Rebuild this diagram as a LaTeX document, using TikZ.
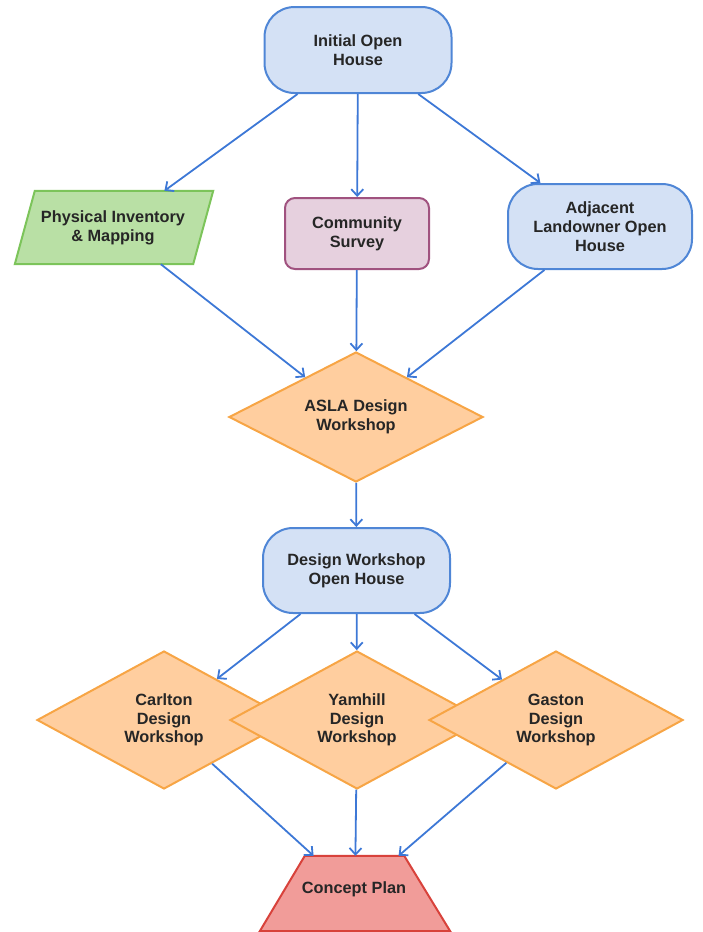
\documentclass[tikz,border=0pt]{standalone}
\usepackage{fontspec}
\setmainfont{Liberation Sans}
\usetikzlibrary{arrows.meta,shapes.geometric,calc}
\definecolor{bfill}{HTML}{D4E1F5}
\definecolor{bdraw}{HTML}{4F86D6}
\definecolor{gfill}{HTML}{B9E0A5}
\definecolor{gdraw}{HTML}{7CC45A}
\definecolor{pfill}{HTML}{E6D0DE}
\definecolor{pdraw}{HTML}{A0527F}
\definecolor{ofill}{HTML}{FFCE9F}
\definecolor{odraw}{HTML}{F7A545}
\definecolor{rfill}{HTML}{F19C99}
\definecolor{rdraw}{HTML}{D8423B}
\definecolor{arrc}{HTML}{3D78D6}
\begin{document}
\begin{tikzpicture}[x=1pt,y=-1pt,
  every node/.style={font=\fontsize{16.3}{18.7}\selectfont\bfseries, align=center, inner sep=0pt, text=black!85},
  term/.style={draw=bdraw, fill=bfill, line width=2pt, rounded corners=30pt},
  survbox/.style={draw=pdraw, fill=pfill, line width=2pt, rounded corners=10pt},
  dia/.style={diamond, aspect=2, draw=odraw, fill=ofill, line width=2pt, minimum width=254pt, minimum height=138pt},
  ghost/.style={rectangle},
  arr/.style={draw=arrc, line width=1.8pt, -{Straight Barb[length=6.5pt,width=12pt,line width=1.8pt]}}
]
\useasboundingbox (0,0) rectangle (702,932);

% top
\node[term, minimum width=187pt, minimum height=86pt] (init) at (358,50) {Initial Open\\House};

% physical inventory (parallelogram)
\node[ghost, minimum width=178pt, minimum height=73pt] (phys) at (114,227.5) {};
\filldraw[draw=gdraw, fill=gfill, line width=2pt, line join=miter]
  ($(phys.south west)+(-10,0)$) -- ($(phys.north west)+(10,0)$) -- ($(phys.north east)+(10,0)$) -- ($(phys.south east)+(-10,0)$) -- cycle;
\node (physt) at (113,227.5) {Physical Inventory\\\& Mapping};

\node[survbox, minimum width=144pt, minimum height=71pt] (surv) at (357,233.5) {Community\\Survey};
\node[term, minimum width=184pt, minimum height=85pt] (adj) at (600,226.5) {Adjacent\\Landowner Open\\House};

\node[dia, minimum height=130pt] (asla) at (356,417) {ASLA Design\\Workshop};

\node[term, minimum width=187pt, minimum height=85pt] (dwoh) at (356.5,570.5) {Design Workshop\\Open House};

\node[dia] (carl) at (164,720) {Carlton\\Design\\Workshop};
\node[dia] (yam) at (357,720) {Yamhill\\Design\\Workshop};
\node[dia] (gast) at (556,720) {Gaston\\Design\\Workshop};

% concept plan (trapezium)
\node[ghost, minimum width=190pt, minimum height=75pt] (conc) at (355,893.5) {};
\filldraw[draw=rdraw, fill=rfill, line width=2pt, line join=miter]
  (conc.south west) -- ($(conc.north west)+(45,0)$) -- ($(conc.north east)+(-46,0)$) -- (conc.south east) -- cycle;
\node (conct) at (354,889) {Concept Plan};

% connectors
\draw[arr] (init) -- (phys);
\draw[arr] (init) -- (surv);
\draw[arr] (init) -- (adj);
\draw[arr] (phys) -- (asla);
\draw[arr] (surv) -- (asla);
\draw[arr] (adj) -- (asla);
\draw[arr] (asla) -- (dwoh);
\draw[arr] (dwoh) -- (carl);
\draw[arr] (dwoh) -- (yam);
\draw[arr] (dwoh) -- (gast);
\draw[arr] (carl) -- (conc);
\draw[arr] (yam) -- (conc);
\draw[arr] (gast) -- (conc);
\end{tikzpicture}
\end{document}
